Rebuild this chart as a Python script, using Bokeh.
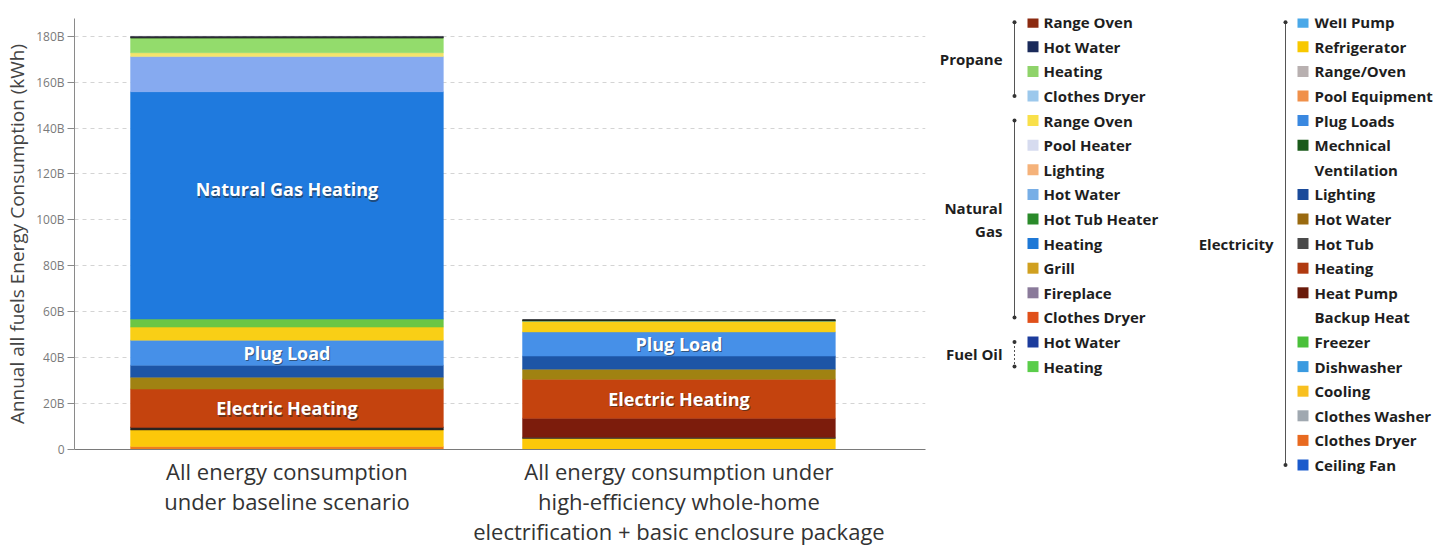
from bokeh.plotting import figure
from bokeh.layouts import row
from bokeh.models import Range1d, ColumnDataSource, FixedTicker
from bokeh.core.properties import value
from bokeh.embed import file_html
from bokeh.resources import INLINE

# ---------------- data ----------------
categories = [
    "All energy consumption\nunder baseline scenario",
    "All energy consumption under\nhigh-efficiency whole-home\nelectrification + basic enclosure package",
]
series = ["Elec Clothes Dryer", "Elec Refrigerator", "Elec Hot Tub", "Elec Heat Pump Backup Heat",
          "Elec Heating", "Elec Hot Water", "Elec Lighting", "Elec Plug Loads", "Elec Cooling",
          "Elec Freezer", "NG Heating", "NG Hot Water", "NG Range Oven", "Propane Heating",
          "Elec Mech Vent", "Propane Hot Water"]
baseline = [1.3, 7.2, 1.2, 0.0, 16.6, 5.2, 5.2, 10.9, 5.7, 3.5, 99.0, 15.3, 1.7, 6.5, 0.0, 0.6]
electrified = [0.0, 4.8, 0.5, 8.3, 17.0, 4.4, 5.7, 10.5, 4.8, 0.0, 0.0, 0.0, 0.0, 0.0, 0.5, 0.0]
y_ticks = [0, 20, 40, 60, 80, 100, 120, 140, 160, 180]
y_tick_labels = ["0", "20B", "40B", "60B", "80B", "100B", "120B", "140B", "160B", "180B"]
y_label = "Annual all fuels Energy Consumption (kWh)"
bar_labels = [(0, "NG Heating", "Natural Gas Heating"), (0, "Elec Plug Loads", "Plug Load"),
              (0, "Elec Heating", "Electric Heating"), (1, "Elec Plug Loads", "Plug Load"),
              (1, "Elec Heating", "Electric Heating")]

legend_left_groups = ["Propane", "Natural\nGas", "Fuel Oil"]
legend_left_items = [
    ["Range Oven", "Hot Water", "Heating", "Clothes Dryer"],
    ["Range Oven", "Pool Heater", "Lighting", "Hot Water", "Hot Tub Heater", "Heating", "Grill",
     "Fireplace", "Clothes Dryer"],
    ["Hot Water", "Heating"],
]
legend_right_group = "Electricity"
legend_right_items = ["Well Pump", "Refrigerator", "Range/Oven", "Pool Equipment", "Plug Loads",
                      "Mechnical\nVentilation", "Lighting", "Hot Water", "Hot Tub", "Heating",
                      "Heat Pump\nBackup Heat", "Freezer", "Dishwasher", "Cooling", "Clothes Washer",
                      "Clothes Dryer", "Ceiling Fan"]

# ---------------- styles ----------------
seg_colors = {
    "Elec Clothes Dryer": "#ef7d1c", "Elec Refrigerator": "#fcc80a", "Elec Hot Tub": "#2a2420",
    "Elec Heat Pump Backup Heat": "#7c1c0c", "Elec Heating": "#c4430e", "Elec Hot Water": "#a08212",
    "Elec Lighting": "#1d55a6", "Elec Plug Loads": "#4690e8", "Elec Cooling": "#f9cf16",
    "Elec Freezer": "#6cc644", "NG Heating": "#1f7ade", "NG Hot Water": "#86aaf0",
    "NG Range Oven": "#f3e46a", "Propane Heating": "#93dc6c", "Elec Mech Vent": "#26331a",
    "Propane Hot Water": "#1c1c2c",
}
legend_left_colors = [
    ["#8b2a10", "#1a2a5a", "#8fd36a", "#9cc8ec"],
    ["#f9e04a", "#d6dbef", "#f5b27a", "#77aee6", "#2a8a2a", "#1e78d6", "#d0a020", "#8a7a9a", "#e0501a"],
    ["#1c3c9c", "#5acd4a"],
]
legend_right_colors = ["#4aa8e8", "#f8c800", "#b8b0b0", "#f0904a", "#3a88e0", "#1a5a1a", "#1a4a9a",
                       "#9a6a10", "#4a4a4a", "#b03a10", "#6a1a0a", "#4ac03a", "#3a9ae0", "#f8c020",
                       "#a0a8b0", "#e86a20", "#1a5acc"]
FONT = "Open Sans"
W_MAIN, H = 930, 550
TOP = 18

# ---------------- main chart ----------------
xs = [1, 2]
data = {"x": xs}
for s, b, e in zip(series, baseline, electrified):
    data[s] = [b, e]
src = ColumnDataSource(data)

p = figure(width=W_MAIN, height=H, output_backend="svg", toolbar_location=None,
           x_range=Range1d(0.458, 2.629), y_range=Range1d(0, 187.7),
           min_border_left=74, min_border_right=5, min_border_top=TOP, min_border_bottom=101)
p.outline_line_color = None
p.background_fill_color = "white"
p.border_fill_color = "white"

p.vbar_stack(series, x="x", width=0.798, source=src,
             fill_color=[seg_colors[s] for s in series],
             line_color=[seg_colors[s] for s in series], line_width=0.5)

# labels on bars
for bi, seg, txt in bar_labels:
    vals = baseline if bi == 0 else electrified
    k = series.index(seg)
    bottom = sum(vals[:k])
    frac = 0.57 if seg == "NG Heating" else 0.5
    yv = bottom + vals[k] * frac
    p.text(x=[xs[bi]], y=[yv], text=[txt], text_font=value(FONT), text_font_style="bold",
           text_font_size="18px", text_color="#222222", text_alpha=0.55,
           text_align="center", text_baseline="middle", x_offset=1, y_offset=1.5)
    p.text(x=[xs[bi]], y=[yv], text=[txt], text_font=value(FONT), text_font_style="bold",
           text_font_size="18px", text_color="white",
           text_align="center", text_baseline="middle")

# axes
p.xgrid.grid_line_color = None
p.ygrid.ticker = FixedTicker(ticks=y_ticks)
p.ygrid.grid_line_color = "#d4d4d4"
p.ygrid.grid_line_dash = "4 4"
p.ygrid.grid_line_width = 1

p.yaxis.ticker = FixedTicker(ticks=y_ticks)
p.yaxis.major_label_overrides = {t: l for t, l in zip(y_ticks, y_tick_labels)}
p.yaxis.axis_line_color = "#8a8a8a"
p.yaxis.major_tick_line_color = "#8a8a8a"
p.yaxis.major_tick_out = 7
p.yaxis.major_tick_in = 0
p.yaxis.minor_tick_line_color = None
p.yaxis.major_label_text_font = FONT
p.yaxis.major_label_text_font_size = "12px"
p.yaxis.major_label_text_color = "#7a7a7a"
p.yaxis.major_label_standoff = 3
p.yaxis.axis_label = y_label
p.yaxis.axis_label_text_font = FONT
p.yaxis.axis_label_text_font_size = "19px"
p.yaxis.axis_label_text_font_style = "normal"
p.yaxis.axis_label_text_color = "#444444"
p.yaxis.axis_label_standoff = 3

p.xaxis.ticker = FixedTicker(ticks=xs)
p.xaxis.major_label_overrides = {x: c for x, c in zip(xs, categories)}
p.xaxis.axis_line_color = "#7a7a7a"
p.xaxis.major_tick_line_color = None
p.xaxis.minor_tick_line_color = None
p.xaxis.major_label_text_font = FONT
p.xaxis.major_label_text_font_size = "22px"
p.xaxis.major_label_text_line_height = 1.0
p.xaxis.major_label_text_color = "#333333"
p.xaxis.major_label_standoff = 0

# ---------------- legend panel ----------------
W_LEG = 1455 - W_MAIN
q = figure(frame_width=W_LEG, frame_height=H - TOP, output_backend="svg", toolbar_location=None,
           x_range=Range1d(W_MAIN, 1455), y_range=Range1d(H, TOP),
           x_axis_location=None, y_axis_location=None,
           min_border=0, min_border_left=0, min_border_right=0, min_border_top=0, min_border_bottom=0)
q.grid.grid_line_color = None
q.outline_line_color = None

Y0, DY = 21.7, 24.6
TXT = "#1e1e1e"
LFS = "15px"

def bracket(xb, r0, r1, dash="solid"):
    y_a, y_b = Y0 + r0 * DY, Y0 + r1 * DY
    q.segment(x0=[xb], y0=[y_a], x1=[xb], y1=[y_b], line_color="#555555", line_width=1,
              line_dash=dash)
    q.scatter(x=[xb, xb], y=[y_a, y_b], size=4, marker="circle", fill_color="#333333",
              line_color=None)

# left legend
r = 0
for gi, (g, items, cols) in enumerate(zip(legend_left_groups, legend_left_items, legend_left_colors)):
    r0 = r
    for it, c in zip(items, cols):
        yy = Y0 + r * DY
        q.rect(x=[1032.5], y=[yy], width=11, height=11, fill_color=c, line_color=None)
        q.text(x=[1043], y=[yy], text=[it], text_font=value(FONT), text_font_style="bold",
               text_font_size=LFS, text_color=TXT, text_baseline="middle", text_align="left")
        r += 1
    r1 = r - 1
    bracket(1014, r0, r1, "solid" if g != "Fuel Oil" else "2 2")
    ymid = Y0 + (r0 + r1) / 2 * DY
    q.text(x=[1002], y=[ymid], text=[g], text_font=value(FONT), text_font_style="bold",
           text_font_size=LFS, text_color=TXT, text_baseline="middle", text_align="right",
           text_line_height=1.15)

# right legend
r = 0
for it, c in zip(legend_right_items, legend_right_colors):
    yy = Y0 + r * DY
    q.rect(x=[1302.5], y=[yy], width=11, height=11, fill_color=c, line_color=None)
    lines = it.split("\n")
    for li, ln in enumerate(lines):
        q.text(x=[1314], y=[yy + li * DY], text=[ln], text_font=value(FONT), text_font_style="bold",
               text_font_size=LFS, text_color=TXT, text_baseline="middle", text_align="left")
    r += len(lines)
bracket(1285, 0, r - 1)
q.text(x=[1273], y=[Y0 + (r - 1) / 2 * DY], text=[legend_right_group], text_font=value(FONT),
       text_font_style="bold", text_font_size=LFS, text_color=TXT, text_baseline="middle",
       text_align="right")

layout = row(p, q)
open("out.html", "w").write(file_html(layout, INLINE))
